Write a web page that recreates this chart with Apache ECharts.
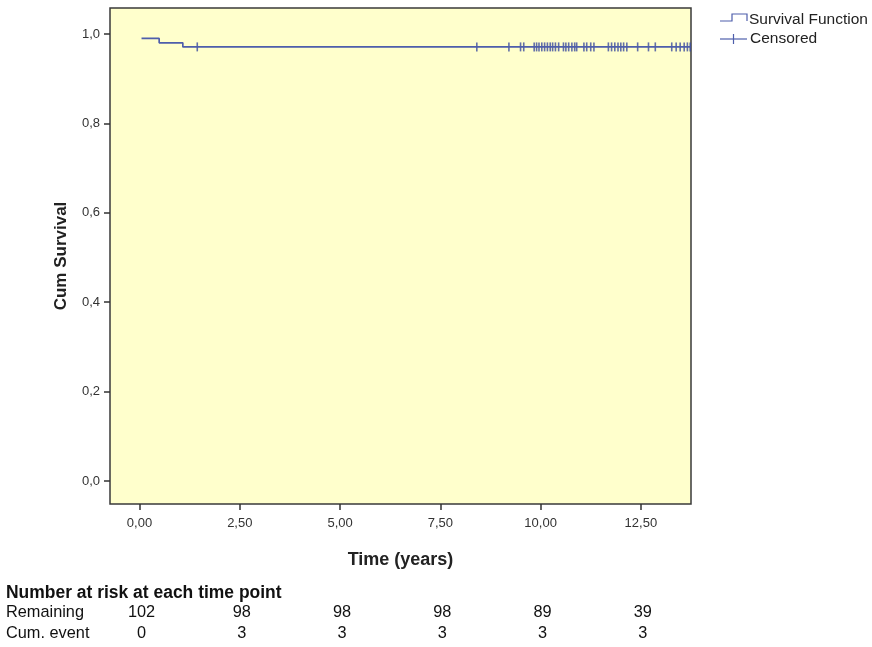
<!DOCTYPE html>
<html>
<head>
<meta charset="utf-8">
<script src="https://cdn.jsdelivr.net/npm/echarts@6/dist/echarts.min.js"></script>
<style>
  html, body { margin: 0; padding: 0; background: #fff; }
  #chart { width: 872px; height: 647px; }
</style>
</head>
<body>
<div id="chart"></div>
<script>
// Kaplan-Meier curve: [time, cum survival]
const survivalSteps = [
  [0.05, 0.990],
  [0.49, 0.980],
  [1.08, 0.971],
  [13.73, 0.971]
]
// censored times (survival level is the curve level at that time)
const censoredTimes = [
  1.44, 8.41, 9.21, 9.50, 9.58, 9.84, 9.90, 9.96, 10.03, 10.10, 10.17, 10.24,
  10.30, 10.37, 10.45, 10.57, 10.63, 10.70, 10.78, 10.85, 10.90, 11.08, 11.15,
  11.25, 11.33, 11.69, 11.77, 11.85, 11.93, 12.00, 12.07, 12.15, 12.42, 12.69,
  12.86, 13.27, 13.38, 13.48, 13.58, 13.66, 13.73
]
const xTicks = [0, 2.5, 5, 7.5, 10, 12.5]
const yTicks = [0, 0.2, 0.4, 0.6, 0.8, 1.0]
// number at risk table
const riskTimes = [0, 2.5, 5, 7.5, 10, 12.5]
const remaining = [102, 98, 98, 98, 89, 39]
const cumEvent = [0, 3, 3, 3, 3, 3]

const levelAt = (t) => {
  let v = 1
  survivalSteps.forEach(p => { if (p[0] <= t) v = p[1] })
  return v
}

const lineColor = '#4e5eab'
const markColor = '#3b4b9e'
const txt = '#222'
const sans = 'Liberation Sans, Arial, sans-serif'

const myChart = echarts.init(document.getElementById('chart'))
const option = {
  animation: false,
  grid: {
    show: true, left: 110, top: 8, width: 581, height: 496,
    backgroundColor: '#ffffcc', borderColor: '#3a3a3a', borderWidth: 1.5
  },
  xAxis: {
    type: 'value', min: -0.736, max: 13.75,
    name: 'Time (years)', nameLocation: 'middle', nameGap: 47,
    nameTextStyle: { fontSize: 18, fontWeight: 'bold', color: txt, fontFamily: sans },
    splitLine: { show: false },
    axisLine: { show: false, onZero: false },
    axisTick: { show: true, length: 6, customValues: xTicks, lineStyle: { color: '#333', width: 1.5 } },
    axisLabel: {
      customValues: xTicks, margin: 13, fontSize: 13, color: '#333', fontFamily: sans,
      formatter: v => v.toFixed(2).replace('.', ',')
    }
  },
  yAxis: {
    type: 'value', min: -0.0515, max: 1.058,
    name: 'Cum Survival', nameLocation: 'middle', nameGap: 40,
    nameTextStyle: { fontSize: 17, fontWeight: 'bold', color: txt, fontFamily: sans },
    splitLine: { show: false },
    axisLine: { show: false, onZero: false },
    axisTick: { show: true, length: 6, customValues: yTicks, lineStyle: { color: '#333', width: 1.5 } },
    axisLabel: {
      customValues: yTicks, margin: 10, fontSize: 13, color: '#333', fontFamily: sans,
      formatter: v => v.toFixed(1).replace('.', ',')
    }
  },
  series: [
    {
      name: 'Survival Function',
      type: 'line',
      step: 'end',
      showSymbol: false,
      data: survivalSteps,
      lineStyle: { color: lineColor, width: 1.7 }
    },
    {
      name: 'Censored',
      type: 'scatter',
      symbol: 'rect',
      symbolSize: [1.6, 9],
      data: censoredTimes.map(t => [t, levelAt(t)]),
      itemStyle: { color: markColor }
    }
  ]
}
myChart.setOption(option)

// legend + risk table placed from the axis scale
const g = []
g.push({
  type: 'polyline', shape: { points: [[720, 21], [732, 21], [732, 14], [747, 14], [747, 21]] },
  style: { stroke: lineColor, lineWidth: 1.2, fill: null }
})
g.push({ type: 'line', shape: { x1: 720, y1: 39, x2: 747, y2: 39 }, style: { stroke: lineColor, lineWidth: 1.2 } })
g.push({ type: 'line', shape: { x1: 733.5, y1: 34, x2: 733.5, y2: 44 }, style: { stroke: lineColor, lineWidth: 1.2 } })
g.push({ type: 'text', x: 749, y: 20, style: { text: 'Survival Function', fontSize: 15.5, fill: txt, fontFamily: sans, verticalAlign: 'middle' } })
g.push({ type: 'text', x: 750, y: 39, style: { text: 'Censored', fontSize: 15.5, fill: txt, fontFamily: sans, verticalAlign: 'middle' } })

const tableText = (x, y, text, extra, sx) => ({
  type: 'text', x: x, y: y, scaleX: sx || 0.96,
  style: Object.assign({ text: text, fontSize: 17, fill: '#111', fontFamily: sans, verticalAlign: 'middle' }, extra || {})
})
g.push(tableText(6, 593, 'Number at risk at each time point', { fontWeight: 'bold', fontSize: 18 }, 0.97))
g.push(tableText(6, 612, 'Remaining'))
g.push(tableText(6, 633, 'Cum. event'))
riskTimes.forEach((t, i) => {
  const px = myChart.convertToPixel({ xAxisIndex: 0 }, t) + 2
  g.push(tableText(px, 612, String(remaining[i]), { align: 'center' }))
  g.push(tableText(px, 633, String(cumEvent[i]), { align: 'center' }))
})
myChart.setOption({ graphic: g })
</script>
</body>
</html>
